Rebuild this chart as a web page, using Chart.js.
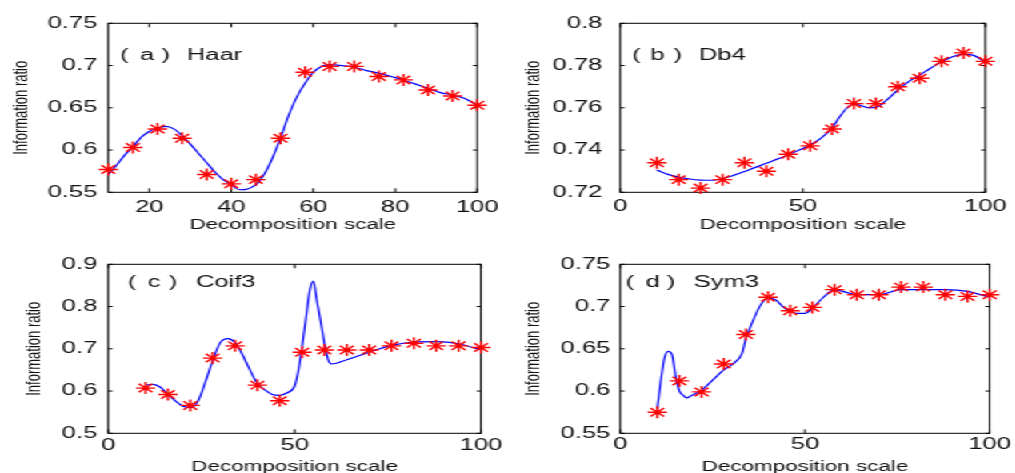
<!DOCTYPE html>
<html>
<head>
<meta charset="utf-8">
<script src="https://cdn.jsdelivr.net/npm/chart.js@4.4.1/dist/chart.umd.min.js"></script>
<style>
  html, body { margin: 0; padding: 0; background: #fff; overflow: hidden; }
  /* the source figure is a stretched raster, so draw narrow and stretch */
  #wrap { position: relative; width: 634px; height: 480px; transform: scaleX(1.6); transform-origin: 0 0; }
  #wrap canvas { position: absolute; }
</style>
</head>
<body>
<div id="wrap">
  <canvas id="chartA" width="317" height="240" style="left:0;top:0"></canvas>
  <canvas id="chartB" width="317" height="240" style="left:317px;top:0"></canvas>
  <canvas id="chartC" width="317" height="240" style="left:0;top:240px"></canvas>
  <canvas id="chartD" width="317" height="240" style="left:317px;top:240px"></canvas>
</div>
<script>
// decomposition scales where the markers sit
const scales = [10, 16, 22, 28, 34, 40, 46, 52, 58, 64, 70, 76, 82, 88, 94, 100];

// marker values (red stars)
const haarMarks  = [0.577, 0.603, 0.625, 0.614, 0.571, 0.560, 0.565, 0.614, 0.692, 0.699, 0.699, 0.687, 0.683, 0.671, 0.664, 0.653];
const db4Marks   = [0.734, 0.726, 0.722, 0.726, 0.734, 0.730, 0.738, 0.742, 0.750, 0.762, 0.762, 0.770, 0.774, 0.782, 0.786, 0.782];
const coif3Marks = [0.607, 0.592, 0.566, 0.678, 0.707, 0.614, 0.577, 0.692, 0.697, 0.697, 0.697, 0.707, 0.713, 0.707, 0.707, 0.703];
const sym3Marks  = [0.575, 0.612, 0.599, 0.632, 0.667, 0.711, 0.695, 0.699, 0.720, 0.714, 0.714, 0.723, 0.723, 0.714, 0.712, 0.714];

// blue fitted curves
const haarCurveX = [10, 12, 14, 16, 18, 20, 22, 24, 26, 28, 30, 32, 34, 36, 38, 40, 42, 44, 46, 48, 50, 52, 54, 56, 58, 60, 62, 64, 67, 70, 73, 76, 79, 82, 85, 88, 91, 94, 97, 100];
const haarCurveY = [0.571, 0.582, 0.594, 0.604, 0.615, 0.622, 0.626, 0.628, 0.625, 0.617, 0.607, 0.596, 0.585, 0.574, 0.565, 0.559, 0.553, 0.554, 0.559, 0.571, 0.590, 0.614, 0.641, 0.663, 0.679, 0.692, 0.699, 0.701, 0.700, 0.698, 0.694, 0.691, 0.687, 0.683, 0.678, 0.673, 0.668, 0.665, 0.661, 0.653];

const db4CurveX = [10, 13, 16, 19, 22, 25, 28, 31, 34, 37, 40, 43, 46, 49, 52, 55, 58, 60, 62, 64, 66, 68, 70, 73, 76, 79, 82, 85, 88, 91, 94, 97, 100];
const db4CurveY = [0.7305, 0.7285, 0.7272, 0.7263, 0.7258, 0.7257, 0.7265, 0.728, 0.7298, 0.7318, 0.7337, 0.7357, 0.7377, 0.740, 0.7424, 0.7456, 0.7505, 0.7555, 0.7598, 0.7618, 0.761, 0.760, 0.7602, 0.7637, 0.7684, 0.7724, 0.7755, 0.7787, 0.7818, 0.7842, 0.7853, 0.7847, 0.7815];

const coif3CurveX = [10, 12, 14, 16, 18, 20, 22, 24, 26, 28, 30, 32, 34, 36, 38, 40, 42, 44, 46, 48, 50, 51, 52, 53, 54, 55, 56, 57, 58, 59, 60, 64, 70, 76, 82, 88, 94, 100];
const coif3CurveY = [0.614, 0.616, 0.609, 0.592, 0.577, 0.564, 0.561, 0.575, 0.620, 0.672, 0.714, 0.724, 0.715, 0.686, 0.650, 0.618, 0.603, 0.592, 0.590, 0.596, 0.612, 0.648, 0.705, 0.770, 0.835, 0.860, 0.812, 0.764, 0.713, 0.674, 0.664, 0.674, 0.692, 0.708, 0.716, 0.717, 0.712, 0.697];

const sym3CurveX = [10, 11, 12, 13, 14, 15, 16, 17, 18, 19, 22, 25, 28, 31, 33, 34, 36, 38, 40, 42, 44, 46, 48, 50, 52, 55, 58, 61, 64, 70, 76, 82, 88, 94, 100];
const sym3CurveY = [0.579, 0.613, 0.640, 0.647, 0.643, 0.617, 0.600, 0.595, 0.592, 0.594, 0.601, 0.613, 0.625, 0.634, 0.645, 0.662, 0.684, 0.702, 0.710, 0.708, 0.700, 0.694, 0.692, 0.692, 0.698, 0.711, 0.720, 0.717, 0.714, 0.714, 0.720, 0.720, 0.720, 0.718, 0.711];

// axis ticks
const haarXTicks = [20, 40, 60, 80, 100];
const fullXTicks = [0, 50, 100];
const haarYTicks = [0.55, 0.6, 0.65, 0.7, 0.75];
const db4YTicks = [0.72, 0.74, 0.76, 0.78, 0.8];
const coif3YTicks = [0.5, 0.6, 0.7, 0.8, 0.9];
const sym3YTicks = [0.55, 0.6, 0.65, 0.7, 0.75];

Chart.defaults.font.family = '"Liberation Sans", Arial, sans-serif';
Chart.defaults.color = '#111';

// caption pieces "( a )  Haar" are spaced out like the source figure
const captionGaps = [0, 11.5, 24.8, 41.6];

// box, inward ticks and the panel caption
const framePlugin = {
    id: 'frame',
    beforeDatasetsDraw(chart, args, opts) {
        const {ctx, chartArea: a, scales: {x, y}} = chart;
        ctx.save();
        ctx.strokeStyle = '#000';
        ctx.lineWidth = 1;
        ctx.strokeRect(a.left, a.top, a.right - a.left, a.bottom - a.top);
        ctx.beginPath();
        x.ticks.forEach(t => {
            const px = x.getPixelForValue(t.value);
            ctx.moveTo(px, a.bottom); ctx.lineTo(px, a.bottom - 4);
            ctx.moveTo(px, a.top); ctx.lineTo(px, a.top + 4);
        });
        y.ticks.forEach(t => {
            const py = y.getPixelForValue(t.value);
            ctx.moveTo(a.left, py); ctx.lineTo(a.left + 2.7, py);
            ctx.moveTo(a.right, py); ctx.lineTo(a.right - 2.7, py);
        });
        ctx.stroke();

        ctx.fillStyle = '#111';
        ctx.font = '16px "Liberation Sans", sans-serif';
        ctx.textAlign = 'left';
        ctx.textBaseline = 'alphabetic';
        const parts = ['(', opts.tag, ')', opts.name];
        parts.forEach((p, i) => {
            const m = ctx.measureText(p);
            ctx.fillText(p, a.left + opts.lx + captionGaps[i] + m.actualBoundingBoxLeft, a.top + opts.ly + 5.7);
        });
        ctx.restore();
    }
};

function makeChart(id, cfg) {
    const ctx = document.getElementById(id).getContext('2d');
    return new Chart(ctx, {
        type: 'line',
        data: {
            datasets: [
                {
                    data: cfg.marks.map((v, i) => ({x: scales[i], y: v})),
                    showLine: false,
                    pointStyle: 'star',
                    pointRadius: 6,
                    pointBorderColor: '#ff0000',
                    pointBorderWidth: 1.4,
                    clip: false,
                    order: 0
                },
                {
                    data: cfg.curveX.map((v, i) => ({x: v, y: cfg.curveY[i]})),
                    borderColor: '#0000ff',
                    borderWidth: 1.2,
                    pointRadius: 0,
                    cubicInterpolationMode: 'monotone',
                    fill: false,
                    order: 1
                }
            ]
        },
        options: {
            responsive: false,
            animation: false,
            events: [],
            layout: {
                padding: {left: 0, top: cfg.top, right: cfg.right, bottom: 0}
            },
            plugins: {
                legend: {display: false},
                tooltip: {enabled: false},
                frame: {tag: cfg.tag, name: cfg.name, lx: cfg.lx, ly: cfg.ly}
            },
            scales: {
                x: {
                    type: 'linear',
                    min: cfg.xMin,
                    max: cfg.xMax,
                    afterBuildTicks: s => { s.ticks = cfg.xTicks.map(v => ({value: v})); },
                    afterFit: s => { s.height = cfg.xH; },
                    grid: {display: false, drawTicks: false},
                    border: {display: false},
                    ticks: {
                        font: {size: 16},
                        padding: cfg.xTickPad,
                        maxRotation: 0,
                        autoSkip: false,
                        callback: v => String(v)
                    },
                    title: {
                        display: true,
                        text: 'Decomposition scale',
                        font: {size: 14},
                        padding: {top: 0, bottom: cfg.xTitlePad}
                    }
                },
                y: {
                    type: 'linear',
                    min: cfg.yTicks[0],
                    max: cfg.yTicks[cfg.yTicks.length - 1],
                    afterBuildTicks: s => { s.ticks = cfg.yTicks.map(v => ({value: v})); },
                    afterFit: s => { s.width = cfg.left; },
                    grid: {display: false, drawTicks: false},
                    border: {display: false},
                    ticks: {
                        font: {size: 16},
                        padding: cfg.yTickPad,
                        autoSkip: false,
                        callback: v => String(v)
                    },
                    title: {
                        display: true,
                        text: 'Information ratio',
                        font: {size: 13},
                        padding: {top: cfg.yTitlePad, bottom: 0}
                    }
                }
            }
        },
        plugins: [framePlugin]
    });
}

makeChart('chartA', {
    marks: haarMarks, curveX: haarCurveX, curveY: haarCurveY,
    xMin: 10, xMax: 100, xTicks: haarXTicks, yTicks: haarYTicks,
    tag: 'a', name: 'Haar', lx: 8.4, ly: 30.7,
    left: 67.7, right: 16.2, top: 23.3, xH: 47.7,
    yTickPad: 6.9, xTickPad: 5.4, yTitlePad: 5.2, xTitlePad: 6.6
});
makeChart('chartB', {
    marks: db4Marks, curveX: db4CurveX, curveY: db4CurveY,
    xMin: 0, xMax: 100, xTicks: fullXTicks, yTicks: db4YTicks,
    tag: 'b', name: 'Db4', lx: 8.4, ly: 30.7,
    left: 70.7, right: 13.4, top: 23.3, xH: 47.7,
    yTickPad: 11.2, xTickPad: 4.8, yTitlePad: 8.5, xTitlePad: 6.6
});
makeChart('chartC', {
    marks: coif3Marks, curveX: coif3CurveX, curveY: coif3CurveY,
    xMin: 0, xMax: 100, xTicks: fullXTicks, yTicks: coif3YTicks,
    tag: 'c', name: 'Coif3', lx: 13.1, ly: 16.8,
    left: 67.7, right: 16.4, top: 24.3, xH: 46.7,
    yTickPad: 6.9, xTickPad: 2.9, yTitlePad: 14.1, xTitlePad: 4.6
});
makeChart('chartD', {
    marks: sym3Marks, curveX: sym3CurveX, curveY: sym3CurveY,
    xMin: 0, xMax: 100, xTicks: fullXTicks, yTicks: sym3YTicks,
    tag: 'd', name: 'Sym3', lx: 4.2, ly: 16.8,
    left: 70.7, right: 13.4, top: 24.3, xH: 46.7,
    yTickPad: 6.2, xTickPad: 2.1, yTitlePad: 8.5, xTitlePad: 4.6
});
</script>
</body>
</html>
